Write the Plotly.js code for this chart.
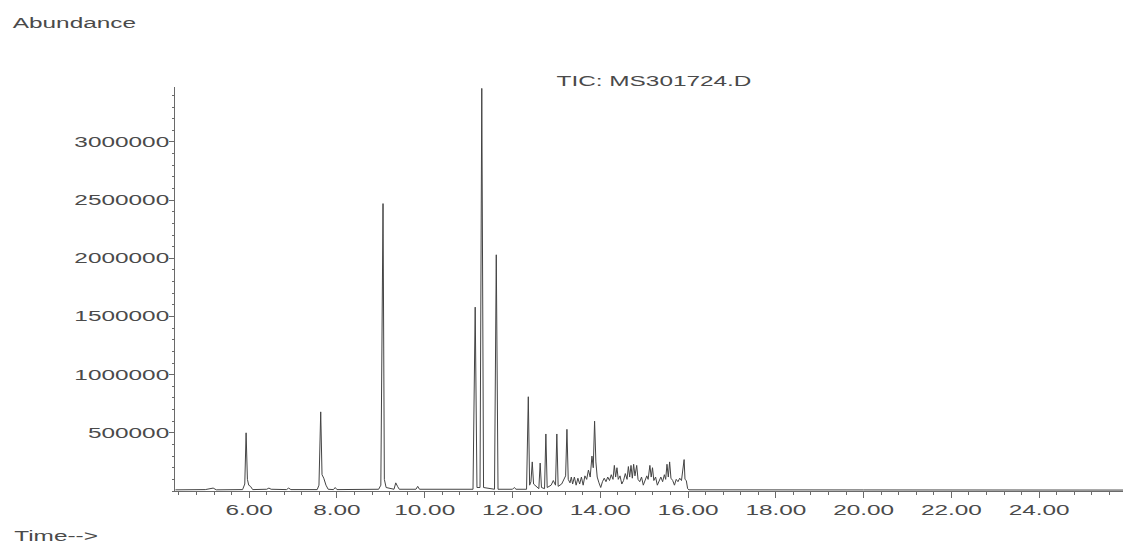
<!DOCTYPE html>
<html>
<head>
<meta charset="utf-8">
<script src="https://cdn.plot.ly/plotly-3.0.1.min.js"></script>
<style>
  html, body { margin: 0; padding: 0; background: #fff; }
  #chart { width: 1123px; height: 544px; }
</style>
</head>
<body>
<div id="chart"></div>
<script>
// Retention time (min)
const time = [
  4.32, 5.00, 5.18, 5.25, 5.85, 5.90, 5.93, 5.96, 5.99, 6.03, 6.08,
  6.40, 6.45, 6.50, 6.85, 6.90, 6.95,
  7.55, 7.59, 7.63, 7.66, 7.70, 7.75, 7.80, 7.92, 7.96, 8.00,
  8.95, 9.00, 9.05, 9.08, 9.12, 9.30, 9.34, 9.38, 9.42, 9.80, 9.84, 9.88,
  11.10, 11.15, 11.19, 11.26, 11.30, 11.34, 11.59, 11.63, 11.67,
  12.00, 12.04, 12.08, 12.32, 12.36, 12.39, 12.42, 12.45, 12.48, 12.55,
  12.60, 12.63, 12.66, 12.73, 12.76, 12.79, 12.88, 12.93, 12.98, 13.01, 13.04,
  13.12, 13.17, 13.21, 13.24, 13.27, 13.31, 13.34, 13.37, 13.41, 13.45,
  13.49, 13.53, 13.57, 13.61, 13.65, 13.69, 13.73, 13.77, 13.81, 13.84,
  13.87, 13.90, 13.93, 13.97, 14.01, 14.05, 14.09, 14.13, 14.17, 14.21,
  14.25, 14.29, 14.32, 14.35, 14.38, 14.41, 14.45, 14.49, 14.53, 14.57,
  14.61, 14.64, 14.67, 14.70, 14.73, 14.76, 14.79, 14.83, 14.86, 14.90,
  14.94, 14.98, 15.02, 15.06, 15.09, 15.13, 15.16, 15.19, 15.22, 15.26,
  15.30, 15.34, 15.38, 15.42, 15.46, 15.49, 15.52, 15.55, 15.58, 15.61,
  15.65, 15.69, 15.73, 15.77, 15.81, 15.85, 15.88, 15.91, 15.93, 15.96,
  15.99, 16.02, 20.00, 25.91
];
// Total ion current abundance
const abundance = [
  10000, 12000, 25000, 10000, 12000, 60000, 500000, 100000, 50000, 40000, 12000,
  15000, 25000, 15000, 12000, 25000, 12000,
  12000, 50000, 680000, 140000, 110000, 50000, 15000, 12000, 30000, 12000,
  15000, 50000, 2470000, 100000, 30000, 15000, 70000, 40000, 15000, 15000, 40000, 15000,
  15000, 1580000, 30000, 30000, 3460000, 30000, 15000, 2030000, 15000,
  15000, 30000, 15000, 15000, 810000, 50000, 80000, 250000, 60000, 40000,
  20000, 240000, 30000, 20000, 490000, 30000, 50000, 90000, 50000, 490000, 40000,
  60000, 100000, 130000, 530000, 100000, 70000, 120000, 60000, 120000, 50000,
  110000, 60000, 120000, 50000, 130000, 100000, 180000, 120000, 300000, 200000,
  600000, 250000, 120000, 70000, 30000, 80000, 110000, 80000, 120000, 90000,
  140000, 100000, 220000, 120000, 200000, 100000, 130000, 60000, 90000, 150000,
  100000, 210000, 120000, 220000, 110000, 230000, 130000, 220000, 100000, 80000,
  120000, 50000, 90000, 130000, 100000, 220000, 120000, 200000, 90000, 120000,
  50000, 90000, 120000, 80000, 140000, 100000, 230000, 120000, 250000, 110000,
  90000, 50000, 100000, 80000, 110000, 90000, 160000, 270000, 100000, 90000,
  20000, 10000, 9000, 8000
];
// Axis ticks
const yTickVals = [500000, 1000000, 1500000, 2000000, 2500000, 3000000];
const yTickText = ["500000", "1000000", "1500000", "2000000", "2500000", "3000000"];
const xTickVals = [6, 8, 10, 12, 14, 16, 18, 20, 22, 24];
const xTickText = ["6.00", "8.00", "10.00", "12.00", "14.00", "16.00", "18.00", "20.00", "22.00", "24.00"];

const FONT = "Liberation Sans, Arial, Helvetica, sans-serif";
const TXT = "#4a4a4a";
const AX = "#6a6a6a";

const trace = {
  x: time, y: abundance, type: "scatter", mode: "lines",
  line: { color: "#444", width: 1 }, hoverinfo: "x+y"
};

const layout = {
  width: 1123, height: 544,
  margin: { l: 175, r: 0, t: 87, b: 53 },
  paper_bgcolor: "#fff", plot_bgcolor: "#fff",
  showlegend: false,
  font: { family: FONT, size: 14, color: TXT },
  xaxis: {
    range: [4.31, 25.91], showgrid: false, zeroline: false,
    showline: true, linecolor: AX, linewidth: 1,
    tickmode: "array", tickvals: xTickVals, ticktext: xTickText,
    ticks: "outside", ticklen: 6, tickcolor: AX, tickwidth: 1,
    tickfont: { family: FONT, size: 14, color: TXT },
    minor: { ticks: "outside", dtick: 0.4, tick0: 0, ticklen: 3, tickcolor: AX, showgrid: false }
  },
  yaxis: {
    range: [0, 3472000], showgrid: false, zeroline: false,
    showline: true, linecolor: AX, linewidth: 1,
    tickmode: "array", tickvals: yTickVals, ticktext: yTickText,
    ticks: "outside", ticklen: 5, tickcolor: AX, tickwidth: 1,
    tickfont: { family: FONT, size: 14, color: TXT },
    minor: { ticks: "outside", dtick: 100000, tick0: 0, ticklen: 2, tickcolor: AX, showgrid: false }
  },
  annotations: [
    { text: "Abundance", xref: "paper", yref: "paper", x: -0.1055, y: 1.1585,
      xanchor: "center", yanchor: "middle", showarrow: false,
      font: { family: FONT, size: 14, color: TXT } },
    { text: "Time-->", xref: "paper", yref: "paper", x: -0.126, y: -0.112,
      xanchor: "center", yanchor: "middle", showarrow: false,
      font: { family: FONT, size: 14, color: TXT } },
    { text: "TIC: MS301724.D", xref: "paper", yref: "paper", x: 0.5053, y: 1.0149,
      xanchor: "center", yanchor: "middle", showarrow: false,
      font: { family: FONT, size: 14, color: TXT } }
  ]
};

const STRETCH = 1.74;
function stretchText() {
  const els = document.querySelectorAll("#chart .xtick text, #chart .ytick text, #chart .annotation-text");
  els.forEach(el => {
    const cx = parseFloat(el.getAttribute("x")) || 0;
    const shift = el.closest(".ytick") ? 3 : 0;
    const t = el.getAttribute("transform") || "";
    el.setAttribute("transform", t + " translate(" + (cx + shift) + ",0) scale(" + STRETCH + ",1) translate(" + (-cx) + ",0)");
  });
}

Plotly.newPlot("chart", [trace], layout, { staticPlot: true, displayModeBar: false, responsive: false })
  .then(stretchText);
</script>
</body>
</html>
